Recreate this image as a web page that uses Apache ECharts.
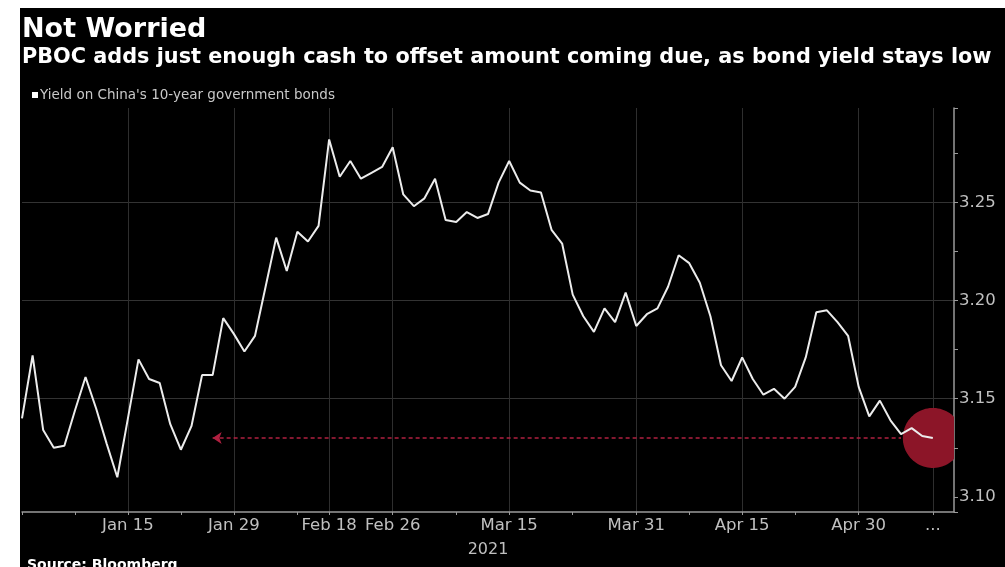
<!DOCTYPE html>
<html><head><meta charset="utf-8">
<script src="https://cdn.jsdelivr.net/npm/echarts@6/dist/echarts.min.js"></script>
<style>
html,body{margin:0;padding:0;background:#fff;width:1005px;height:567px;overflow:hidden}
#c{position:absolute;left:20px;top:8px;width:985px;height:559px;background:#000}
</style>
</head><body><div id="c"></div><script>
const titleText = 'Not Worried';
const subtitleText = 'PBOC adds just enough cash to offset amount coming due, as bond yield stays low';
const seriesName = "Yield on China's 10-year government bonds";
const sourceText = 'Source: Bloomberg';

const dates = ['Dec 31',
 'Jan 4','Jan 5','Jan 6','Jan 7','Jan 8','Jan 11','Jan 12','Jan 13','Jan 14','Jan 15',
 'Jan 18','Jan 19','Jan 20','Jan 21','Jan 22','Jan 25','Jan 26','Jan 27','Jan 28','Jan 29',
 'Feb 1','Feb 2','Feb 3','Feb 4','Feb 5','Feb 8','Feb 9','Feb 10','Feb 18','Feb 19',
 'Feb 22','Feb 23','Feb 24','Feb 25','Feb 26','Mar 1','Mar 2','Mar 3','Mar 4','Mar 5',
 'Mar 8','Mar 9','Mar 10','Mar 11','Mar 12','Mar 15','Mar 16','Mar 17','Mar 18','Mar 19',
 'Mar 22','Mar 23','Mar 24','Mar 25','Mar 26','Mar 29','Mar 30','Mar 31','Apr 1','Apr 2',
 'Apr 6','Apr 7','Apr 8','Apr 9','Apr 12','Apr 13','Apr 14','Apr 15','Apr 16',
 'Apr 19','Apr 20','Apr 21','Apr 22','Apr 23','Apr 26','Apr 27','Apr 28','Apr 29','Apr 30',
 'May 6','May 7','May 10','May 11','May 12','May 13','May 14'];
const axisPadDates = ['May 17','May 18'];

const yields = [3.140,
 3.172,3.134,3.125,3.126,3.144,3.161,3.145,3.127,3.110,3.140,
 3.170,3.160,3.158,3.137,3.124,3.136,3.162,3.162,3.191,3.183,
 3.174,3.182,3.207,3.232,3.215,3.235,3.230,3.238,3.282,3.263,
 3.271,3.262,3.265,3.268,3.278,3.254,3.248,3.252,3.262,3.241,
 3.240,3.245,3.242,3.244,3.260,3.271,3.260,3.256,3.255,3.236,
 3.229,3.203,3.192,3.184,3.196,3.189,3.204,3.187,3.193,3.196,
 3.207,3.223,3.219,3.209,3.192,3.167,3.159,3.171,3.160,
 3.152,3.155,3.150,3.156,3.171,3.194,3.195,3.189,3.182,3.156,
 3.141,3.149,3.139,3.132,3.135,3.131,3.130];

const labelDates = ['Jan 15','Jan 29','Feb 18','Feb 26','Mar 15','Mar 31','Apr 15','Apr 30'];
const lastLabel = '...';
const yearLabel = '2021';
const tickDates = ['Dec 31','Jan 8','Jan 15','Jan 22','Jan 29','Feb 8','Feb 18','Feb 26','Mar 8','Mar 15','Mar 23','Mar 31','Apr 8','Apr 15','Apr 22','Apr 30','May 14'];
const yMin = 3.0923, yMax = 3.298;
const refYield = 3.13;
const arrowStart = 'Jan 27', arrowEnd = 'May 11';

const lastIdx = dates.length - 1;
const categories = dates.concat(axisPadDates);
const gridDates = labelDates.concat([dates[lastIdx]]);

const chart = echarts.init(document.getElementById('c'));
const FONT = '"DejaVu Sans", Verdana, sans-serif';
chart.setOption({
  backgroundColor: '#000',
  animation: false,
  graphic: [
    {type:'text', x:2, y:8, style:{text:titleText, fill:'#fff', font:'bold 27px ' + FONT}},
    {type:'text', x:2, y:39, style:{text:subtitleText, fill:'#fff', font:'bold 20.8px ' + FONT}},
    {type:'text', x:7, y:550, style:{text:sourceText, fill:'#fff', font:'bold 14px ' + FONT}}
  ],
  legend: {
    data: [seriesName], left: 12, top: 80, padding: 0, icon: 'rect', itemWidth: 6, itemHeight: 6,
    itemGap: 4, itemStyle: {color: '#fff'},
    textStyle: {color: '#c8c8c8', fontSize: 13.5, fontFamily: FONT, padding:[0,0,0,-3]}
  },
  grid: {left: 2, right: 51, top: 100, bottom: 55, containLabel: false},
  xAxis: {
    type: 'category', data: categories, boundaryGap: false,
    name: yearLabel, nameLocation: 'middle', nameGap: 30,
    nameTextStyle: {color: '#c0c0c0', fontSize: 16, fontFamily: FONT},
    axisLine: {lineStyle: {color: '#9a9a9a', width: 1.5}},
    axisTick: {show: true, length: 3, lineStyle: {color: '#9a9a9a'},
      interval: (i, v) => tickDates.includes(v)},
    axisLabel: {color: '#c0c0c0', fontSize: 16.5, fontFamily: FONT, margin: 5,
      interval: (i, v) => labelDates.includes(v) || i === lastIdx,
      formatter: (v, i) => i === lastIdx ? lastLabel : v},
    splitLine: {show: true, lineStyle: {color: '#2e2e2e', width: 1},
      interval: (i, v) => gridDates.includes(v)}
  },
  yAxis: {
    type: 'value', position: 'right', min: yMin, max: yMax, scale: true,
    axisLine: {show: true, lineStyle: {color: '#9a9a9a', width: 1.5}},
    axisTick: {show: true, length: 4, lineStyle: {color: '#9a9a9a'}},
    minorTick: {show: true, splitNumber: 2, length: 4, lineStyle: {color: '#9a9a9a'}},
    axisLabel: {color: '#c0c0c0', fontSize: 16.5, fontFamily: FONT, margin: 5,
      showMinLabel: false, showMaxLabel: false,
      formatter: v => v.toFixed(2)},
    splitLine: {show: true, showMinLine: false, showMaxLine: false,
      lineStyle: {color: ['#000','#333','#333','#333','#333','#000'], width: 1}}
  },
  series: [
    {
      type: 'custom', z: 1, silent: true,
      data: [[dates[lastIdx], yields[lastIdx]]],
      renderItem: function (params, api) {
        const c = api.coord([api.value(0), api.value(1)]);
        const r = 30;
        const right = params.coordSys.x + params.coordSys.width;
        const pts = [];
        for (let k = 0; k < 90; k++) {
          const a = k / 90 * Math.PI * 2;
          pts.push([Math.min(c[0] + r * Math.cos(a), right), c[1] + r * Math.sin(a)]);
        }
        return {type: 'polygon', shape: {points: pts}, style: {fill: '#8c1528'}};
      }
    },
    {
      name: seriesName, type: 'line', z: 3, data: yields,
      showSymbol: false, symbol: 'none',
      lineStyle: {color: '#ececec', width: 2},
      itemStyle: {color: '#fff'},
      markLine: {
        silent: true, animation: false,
        label: {show: false},
        lineStyle: {color: '#b02040', type: [4, 3], width: 1.5},
        data: [[
          {coord: [arrowStart, refYield], symbol: 'arrow', symbolSize: [9, 9]},
          {coord: [arrowEnd, refYield], symbol: 'none'}
        ]]
      }
    }
  ]
});
</script></body></html>
